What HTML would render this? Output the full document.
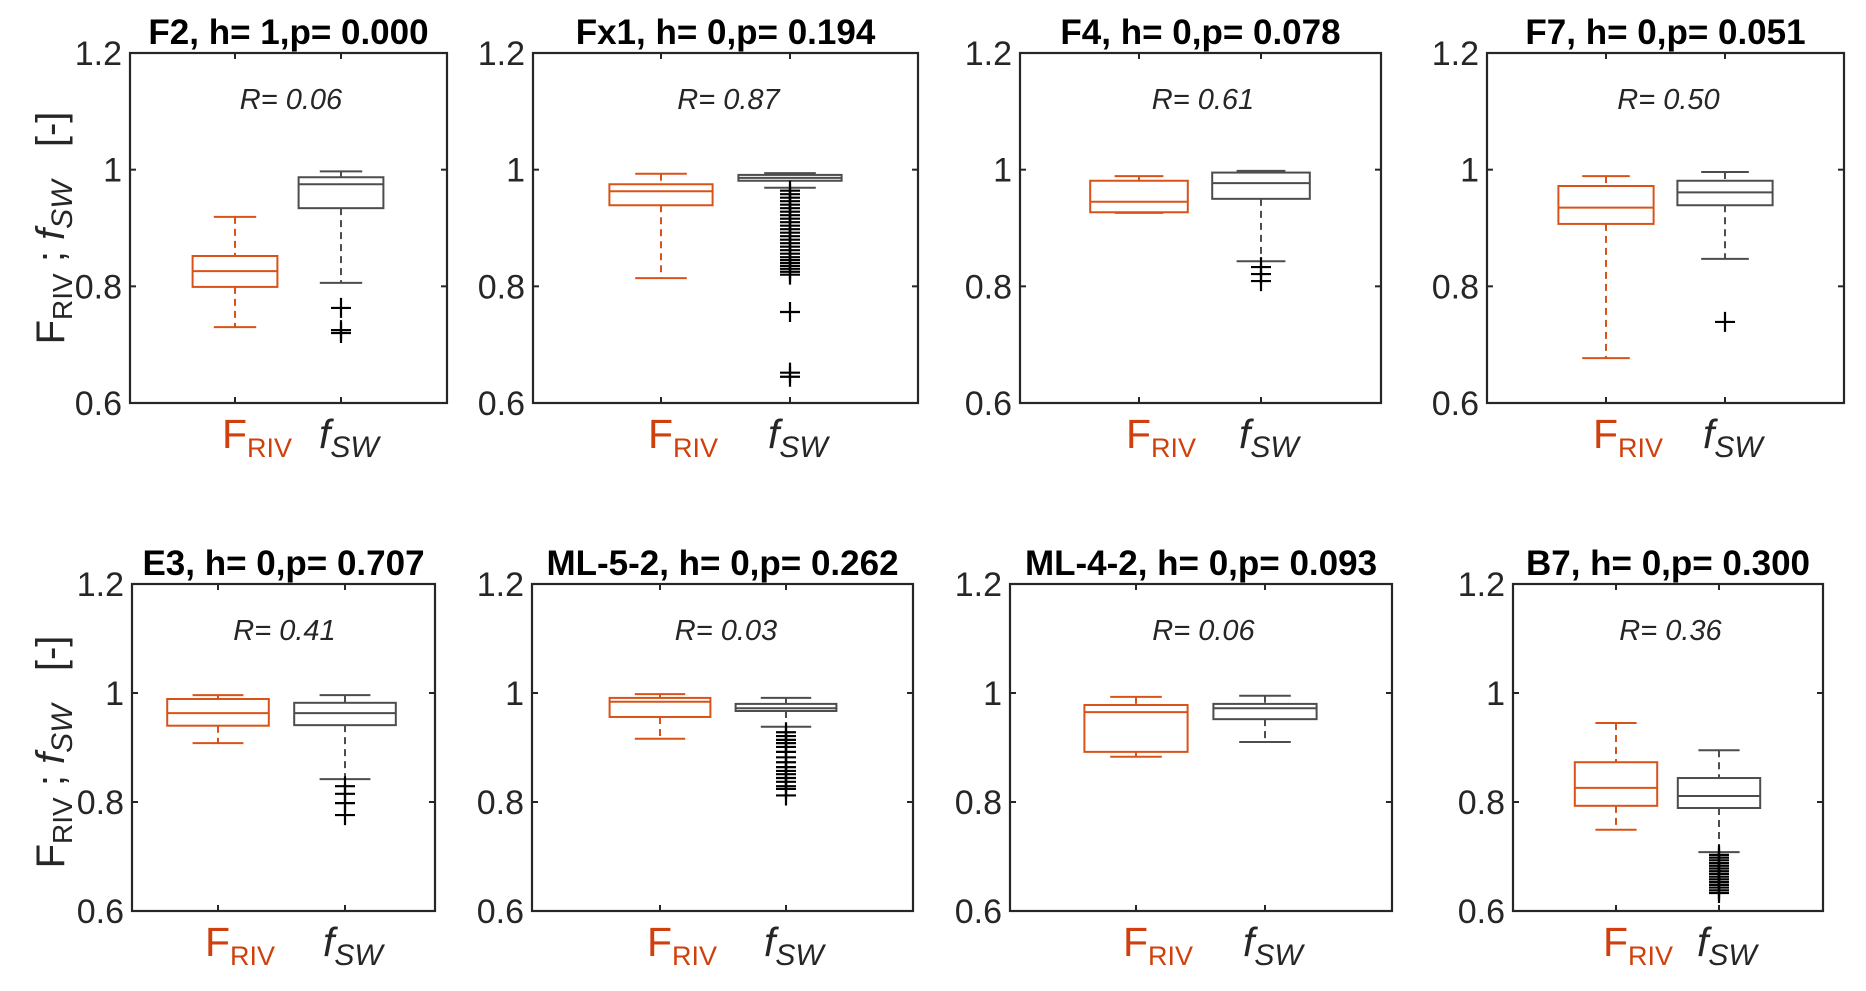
<!DOCTYPE html>
<html><head><meta charset="utf-8">
<style>
html,body{margin:0;padding:0;background:#fff;}
svg{display:block;font-family:"Liberation Sans",Arial,sans-serif;}
</style></head>
<body>
<svg id="chart" width="1866" height="991" viewBox="0 0 1866 991" xmlns="http://www.w3.org/2000/svg"></svg>
<script>
// ---- data ----
const siteNames = ["F2","Fx1","F4","F7","E3","ML-5-2","ML-4-2","B7"];
const hValues = [1,0,0,0,0,0,0,0];
const pValues = ["0.000","0.194","0.078","0.051","0.707","0.262","0.093","0.300"];
const rValues = ["0.06","0.87","0.61","0.50","0.41","0.03","0.06","0.36"];
// [lowerWhisker, q1, median, q3, upperWhisker]
const frivStats = [
  [0.730,0.799,0.826,0.852,0.919],
  [0.814,0.939,0.963,0.975,0.993],
  [0.926,0.927,0.945,0.981,0.989],
  [0.677,0.907,0.935,0.972,0.989],
  [0.908,0.940,0.963,0.989,0.996],
  [0.916,0.956,0.984,0.991,0.998],
  [0.883,0.892,0.965,0.978,0.993],
  [0.749,0.793,0.826,0.873,0.945]
];
const fswStats = [
  [0.806,0.934,0.975,0.987,0.997],
  [0.969,0.981,0.986,0.991,0.994],
  [0.843,0.950,0.977,0.995,0.998],
  [0.847,0.939,0.961,0.981,0.996],
  [0.842,0.941,0.963,0.982,0.996],
  [0.938,0.967,0.972,0.980,0.991],
  [0.910,0.952,0.972,0.980,0.995],
  [0.708,0.789,0.811,0.844,0.895]
];
const fswOutliers = [
  [0.763,0.725,0.720],
  [0.964,0.958,0.952,0.946,0.940,0.934,0.928,0.922,0.916,0.910,0.904,0.898,0.892,0.886,0.880,0.874,0.868,0.862,0.856,0.850,0.845,0.840,0.835,0.830,0.825,0.820,0.756,0.652,0.645],
  [0.833,0.821,0.809],
  [0.739],
  [0.829,0.815,0.798,0.776],
  [0.928,0.921,0.914,0.908,0.901,0.892,0.882,0.873,0.864,0.857,0.851,0.844,0.837,0.829,0.824,0.812],
  [],
  [0.703,0.698,0.693,0.688,0.683,0.678,0.673,0.668,0.663,0.658,0.653,0.648,0.643,0.638,0.633]
];
const yTicks = [0.6,0.8,1.0,1.2];
const yTickLabels = ["0.6","0.8","1","1.2"];
const yMin = 0.6, yMax = 1.2;

// ---- layout (pixel geometry) ----
const panels = [
  {l:130,r:447,t:53,b:403,c1:235,c2:341},
  {l:533,r:918,t:53,b:403,c1:661,c2:790},
  {l:1020,r:1381,t:53,b:403,c1:1139,c2:1261},
  {l:1487,r:1844,t:53,b:403,c1:1606,c2:1725},
  {l:132,r:435,t:584,b:911,c1:218,c2:345},
  {l:532,r:913,t:584,b:911,c1:660,c2:786},
  {l:1010,r:1392,t:584,b:911,c1:1136,c2:1265},
  {l:1513,r:1823,t:584,b:911,c1:1616,c2:1719}
];
const ORANGE="#d95319", GRAY="#4d4d4d", AX="#262626";
const svg=document.getElementById('chart');
const NS="http://www.w3.org/2000/svg";
function mk(tag,attrs,parent){const e=document.createElementNS(NS,tag);for(const k in attrs)e.setAttribute(k,attrs[k]);(parent||svg).appendChild(e);return e;}
function line(g,x1,y1,x2,y2,col,w,dash){const e=mk('line',{x1,y1,x2,y2,stroke:col,'stroke-width':w},g);if(dash)e.setAttribute('stroke-dasharray',dash);return e;}

function drawBox(g,P,yS,cx,u,st,col,name){
  const bg=mk('g',{},g);
  
  
  const hw=0.4*u, cw=0.2*u;
  line(bg,cx,yS(st[4]),cx,yS(st[3]),col,2,"7,5");
  line(bg,cx,yS(st[1]),cx,yS(st[0]),col,2,"7,5");
  line(bg,cx-cw,yS(st[4]),cx+cw,yS(st[4]),col,2);
  line(bg,cx-cw,yS(st[0]),cx+cw,yS(st[0]),col,2);
  mk('rect',{x:cx-hw,y:yS(st[3]),width:2*hw,height:Math.max(1,yS(st[1])-yS(st[3])),fill:'none',stroke:col,'stroke-width':2},bg);
  line(bg,cx-hw,yS(st[2]),cx+hw,yS(st[2]),col,2);
}

panels.forEach((P,i)=>{
  const g=mk('g',{});
  
  
  const yS=v=>P.b-(v-yMin)/(yMax-yMin)*(P.b-P.t);
  const u=P.c2-P.c1;
  const fr=mk('rect',{x:P.l,y:P.t,width:P.r-P.l,height:P.b-P.t,fill:'none',stroke:AX,'stroke-width':2.2},g);
  
  
  yTicks.forEach((v,k)=>{
    const y=yS(v);
    line(g,P.l,y,P.l+6,y,AX,2);
    line(g,P.r,y,P.r-6,y,AX,2);
    const t=mk('text',{x:P.l-8,y:y+12,'text-anchor':'end','font-size':34,fill:AX},g);
    
    
    t.textContent=yTickLabels[k];
  });
  [P.c1,P.c2].forEach(x=>{line(g,x,P.t,x,P.t+6,AX,2);line(g,x,P.b,x,P.b-6,AX,2);});
  const tt=mk('text',{x:(P.l+P.r)/2,y:P.t-9,'text-anchor':'middle','font-size':35,'font-weight':'bold',fill:'#000'},g);
  
  
  tt.textContent=siteNames[i]+", h= "+hValues[i]+",p= "+pValues[i];
  const rt=mk('text',{x:(P.c1+P.c2)/2+3,y:P.t+56,'text-anchor':'middle','font-size':29,'font-style':'italic',fill:AX},g);
  
  
  rt.textContent="R= "+rValues[i];
  drawBox(g,P,yS,P.c1,u,frivStats[i],ORANGE,'box-friv');
  drawBox(g,P,yS,P.c2,u,fswStats[i],GRAY,'box-fsw');
  fswOutliers[i].forEach(v=>{
    const y=yS(v);
    const o=mk('path',{d:`M${P.c2-10},${y}H${P.c2+10}M${P.c2},${y-10}V${y+10}`,stroke:'#000','stroke-width':2.2,fill:'none'},g);
    
    
  });
  const xl1=mk('text',{x:P.c1-13,y:P.b+45,'font-size':41,fill:'#d0400d'},g);
  
  
  xl1.innerHTML='F<tspan font-size="27" dy="9">RIV</tspan>';
  const xl2=mk('text',{x:P.c2-22,y:P.b+45,'font-size':41,'font-style':'italic',fill:AX},g);
  
  
  xl2.innerHTML='f<tspan font-size="30" dy="9">SW</tspan>';
});
[[228,'y-axis-title-top'],[752,'y-axis-title-bottom']].forEach(([cy,nm])=>{
  const t=mk('text',{x:0,y:0,'text-anchor':'middle','font-size':40,fill:AX,transform:`translate(64,${cy}) rotate(-90)`});
  
  
  t.innerHTML='F<tspan font-size="28" dy="8">RIV</tspan><tspan dy="-8"> ; </tspan><tspan font-style="italic">f</tspan><tspan font-size="30" font-style="italic" dy="8">SW</tspan><tspan dy="-8" xml:space="preserve">   [-]</tspan>';
});
</script>
</body></html>
